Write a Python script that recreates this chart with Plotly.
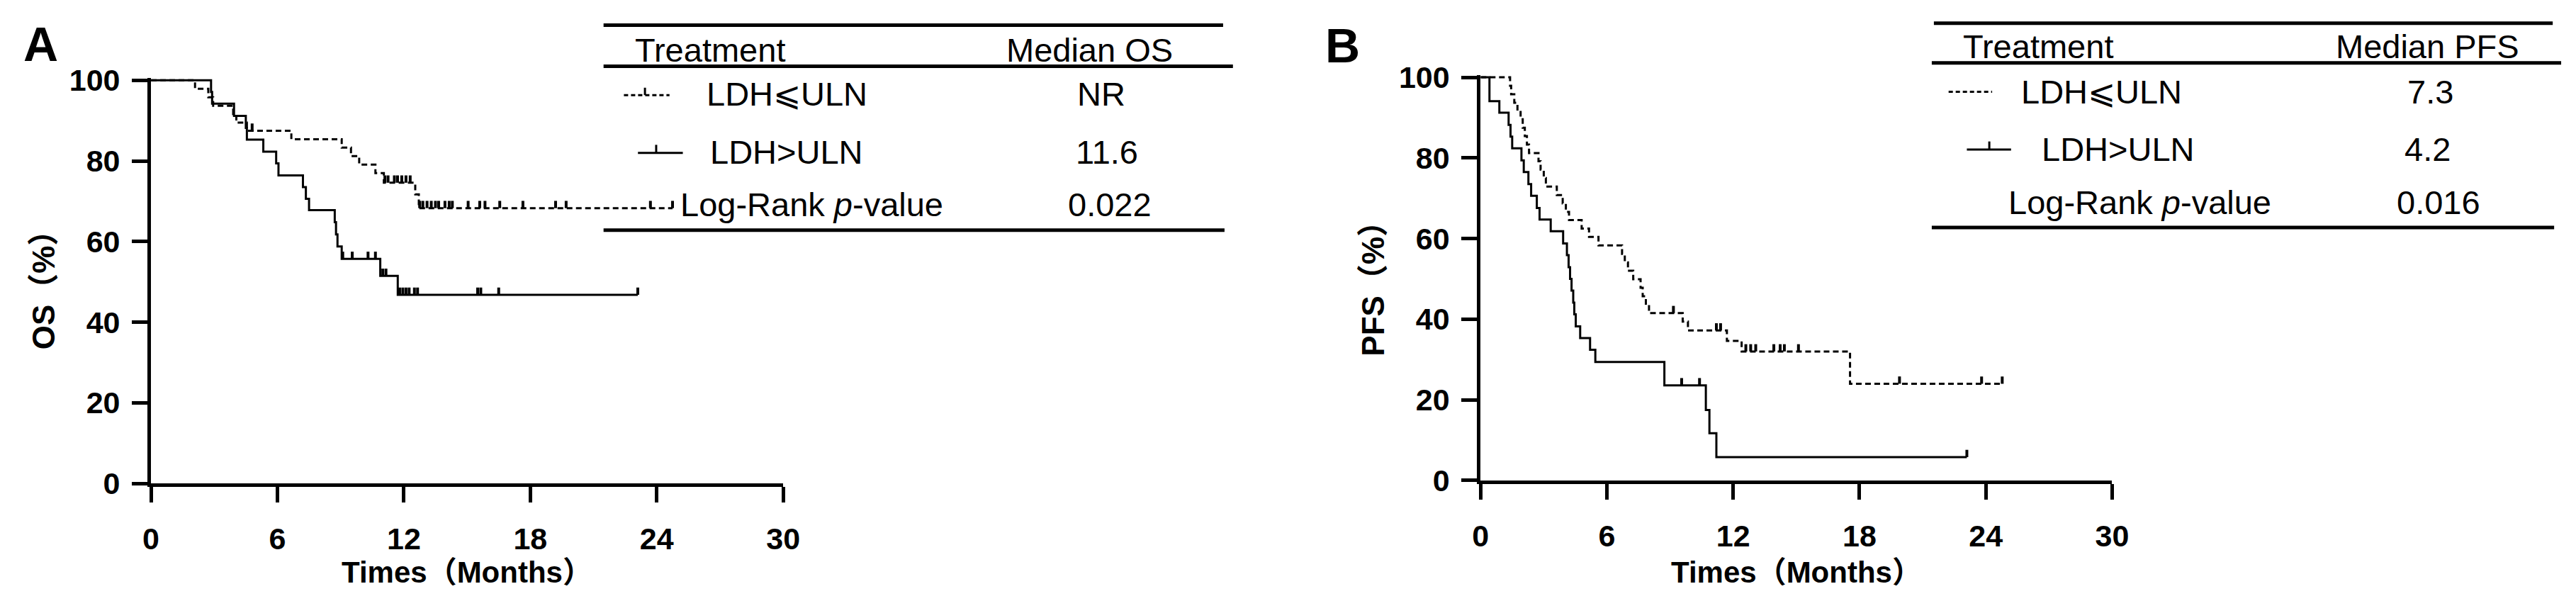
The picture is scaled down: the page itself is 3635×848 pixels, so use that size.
import numpy as np
import plotly.graph_objects as go

# ---- data (months, % survival) ----
os_low_t = [0, 2.09, 2.72, 2.95, 3.9, 4.05, 4.55, 6.66, 9.05, 9.49, 9.88, 10.65, 11.05, 12.54, 12.71, 24.75]
os_low_s = [100, 97.9, 95.8, 93.7, 91.6, 89.5, 87.5, 85.4, 83.3, 81.2, 79.1, 77.0, 74.6, 71.7, 68.3, 68.3]
os_low_cens = [4.8, 11.1, 11.25, 11.55, 11.7, 11.9, 12.1, 12.3, 12.75, 12.9, 13.1, 13.3, 13.5, 13.65,
               13.95, 14.15, 14.3, 15.05, 15.6, 15.85, 16.55, 17.65, 19.2, 19.7, 23.7, 24.75]

os_high_t = [0, 2.85, 2.9, 3.94, 4.5, 4.55, 5.33, 5.94, 6.05, 7.21, 7.35, 7.5, 8.72, 8.78, 8.85, 9.05, 10.88, 11.71, 23.1]
os_high_s = [100, 97.1, 94.2, 91.2, 88.2, 85.3, 82.3, 79.4, 76.4, 73.5, 70.6, 67.8, 64.8, 61.8, 58.8, 55.7, 51.5, 46.8, 46.8]
os_high_cens = [9.1, 9.55, 10.3, 10.65, 11.0, 11.15, 11.8, 11.95, 12.1, 12.25, 12.5, 12.65, 15.5, 15.65, 16.5, 23.1]

pfs_low_t = [0, 1.40, 1.45, 1.60, 1.75, 1.90, 2.00, 2.10, 2.20, 2.30, 2.75, 2.85, 3.00, 3.10, 3.62, 3.90, 4.05,
             4.20, 4.80, 5.15, 5.60, 6.72, 6.85, 7.00, 7.25, 7.60, 7.70, 7.85, 8.00, 9.60, 9.85, 11.70, 12.40,
             17.55, 24.78]
pfs_low_s = [100, 97.9, 95.8, 93.7, 91.7, 89.6, 87.5, 85.4, 83.3, 81.2, 79.2, 77.1, 75.0, 72.9, 70.8, 68.7, 66.6,
             64.6, 62.5, 60.4, 58.3, 56.2, 54.1, 52.0, 49.9, 47.8, 45.7, 43.6, 41.5, 39.4, 37.2, 34.6, 32.0,
             24.0, 24.0]
pfs_low_cens = [9.16, 11.2, 11.4, 12.6, 12.83, 13.07, 13.93, 14.23, 14.43, 15.1, 19.9, 23.8, 24.78]

pfs_high_t = [0, 0.42, 0.89, 1.33, 1.42, 1.50, 1.94, 2.05, 2.27, 2.40, 2.67, 2.80, 3.33, 3.92, 4.10, 4.18,
              4.25, 4.32, 4.40, 4.45, 4.52, 4.73, 5.20, 5.45, 8.73, 10.70, 10.87, 11.20, 23.1]
pfs_high_s = [100, 94.1, 91.2, 88.2, 85.3, 82.4, 79.4, 76.5, 73.5, 70.6, 67.6, 64.7, 61.8, 58.8, 55.9, 52.9,
              50.0, 47.1, 44.1, 41.2, 38.2, 35.3, 32.4, 29.4, 23.6, 17.5, 11.7, 5.8, 5.8]
pfs_high_cens = [9.55, 10.4, 23.1]

x_ticks = [0, 6, 12, 18, 24, 30]
y_ticks = [0, 20, 40, 60, 80, 100]

os_table = ["Treatment", "Median OS", "LDH⩽ULN", "NR", "LDH>ULN", "11.6", "Log-Rank <i>p</i>-value", "0.022"]
pfs_table = ["Treatment", "Median PFS", "LDH⩽ULN", "7.3", "LDH>ULN", "4.2", "Log-Rank <i>p</i>-value", "0.016"]

W, H = 3635, 848
FONT = "Liberation Sans, Arial, Noto Sans CJK SC"
TICK = 1.8   # censor tick height in % units


def px(x):
    return x / W


def py(y):
    return 1 - y / H


def cens_y(t, s, c):
    idx = np.searchsorted(np.array(t), np.array(c), side="right") - 1
    return list(np.array(s)[idx])


fig = go.Figure()


def add_curve(t, s, cens, dash, xa, ya):
    fig.add_trace(go.Scatter(x=t, y=s, mode="lines", line_shape="hv",
                             line=dict(color="black", width=3, dash=dash),
                             xaxis=xa, yaxis=ya, hoverinfo="skip"))
    # censor marks: short vertical ticks rising from the curve
    fig.add_trace(go.Scatter(x=cens, y=cens_y(t, s, cens), mode="markers",
                             marker=dict(size=1, color="rgba(0,0,0,0)"),
                             error_y=dict(type="data", symmetric=False, array=[TICK] * len(cens),
                                          arrayminus=[0] * len(cens), width=0, thickness=4, color="black"),
                             xaxis=xa, yaxis=ya, hoverinfo="skip"))


add_curve(os_low_t, os_low_s, os_low_cens, "8px,5px", "x", "y")
add_curve(os_high_t, os_high_s, os_high_cens, "solid", "x", "y")
add_curve(pfs_low_t, pfs_low_s, pfs_low_cens, "8px,5px", "x2", "y2")
add_curve(pfs_high_t, pfs_high_s, pfs_high_cens, "solid", "x2", "y2")

ax_common = dict(showline=True, linewidth=5, linecolor="black", ticks="outside", ticklen=22,
                 tickwidth=5, tickcolor="black", showgrid=False, zeroline=False,
                 tickfont=dict(family=FONT, size=43, color="black", weight="bold"))

fig.update_layout(
    width=W, height=H, margin=dict(l=0, r=0, t=0, b=0),
    paper_bgcolor="white", plot_bgcolor="white", showlegend=False,
    xaxis=dict(domain=[px(195), px(1096)], range=[0, 30], tickvals=x_ticks, anchor="y",
               ticklabelstandoff=14, **ax_common),
    yaxis=dict(domain=[py(690), py(86.4)], range=[0, 100.6], tickvals=y_ticks, anchor="x",
               ticklabelstandoff=8, **ax_common),
    xaxis2=dict(domain=[px(2090), px(2990)], range=[0, 30], tickvals=x_ticks, anchor="y2",
                ticklabelstandoff=14, **ax_common),
    yaxis2=dict(domain=[py(685.5), py(81.9)], range=[0, 100.6], tickvals=y_ticks, anchor="x2",
                ticklabelstandoff=8, **ax_common),
)

ann = []
shapes = []


def text(x, y, s, size=47, bold=False, xanchor="center", angle=0):
    ann.append(dict(x=px(x), y=py(y), xref="paper", yref="paper", text=s, showarrow=False,
                    xanchor=xanchor, yanchor="middle", textangle=angle,
                    font=dict(family=FONT, size=size, color="black", weight="bold" if bold else "normal")))


def hline(x0, x1, y, width=5, dash="solid"):
    shapes.append(dict(type="line", xref="paper", yref="paper", x0=px(x0), x1=px(x1), y0=py(y), y1=py(y),
                       line=dict(color="black", width=width, dash=dash)))


def vline(x, y0, y1, width=3):
    shapes.append(dict(type="line", xref="paper", yref="paper", x0=px(x), x1=px(x), y0=py(y0), y1=py(y1),
                       line=dict(color="black", width=width)))


# panel letters and axis titles
text(38, 36, "A", size=68, bold=True)
text(1893, 38, "B", size=68, bold=True)
text(42, 390, "OS（%）", size=44, bold=True, angle=-90)
text(1937, 388, "PFS（%）", size=44, bold=True, angle=-90)
text(645, 822, "Times（Months）", size=42, bold=True)
text(2540, 822, "Times（Months）", size=42, bold=True)

# table A
hline(840, 1723, 8)
hline(840, 1737, 69)
hline(840, 1725, 313)
text(883, 45, os_table[0], xanchor="left")
text(1533, 45, os_table[1])
hline(869, 934, 112, width=3, dash="6px,4px")
vline(899, 112, 101)
text(985, 110, os_table[2], xanchor="left")
text(1549, 110, os_table[3])
hline(889, 953, 198, width=3)
vline(915, 198, 186)
text(990, 197, os_table[4], xanchor="left")
text(1557, 197, os_table[5])
text(947, 275, os_table[6], xanchor="left")
text(1561, 275, os_table[7])

# table B
hline(2736, 3618, 5)
hline(2733, 3630, 64)
hline(2733, 3620, 309)
text(2775, 40, pfs_table[0], xanchor="left")
text(3440, 40, pfs_table[1])
hline(2757, 2819, 107, width=3, dash="6px,4px")
text(2858, 107, pfs_table[2], xanchor="left")
text(3444, 107, pfs_table[3])
hline(2783, 2846, 193, width=3)
vline(2815, 193, 181)
text(2888, 192, pfs_table[4], xanchor="left")
text(3440, 192, pfs_table[5])
text(2840, 272, pfs_table[6], xanchor="left")
text(3455, 272, pfs_table[7])

fig.update_layout(annotations=ann, shapes=shapes)
fig.write_html("out.html")
